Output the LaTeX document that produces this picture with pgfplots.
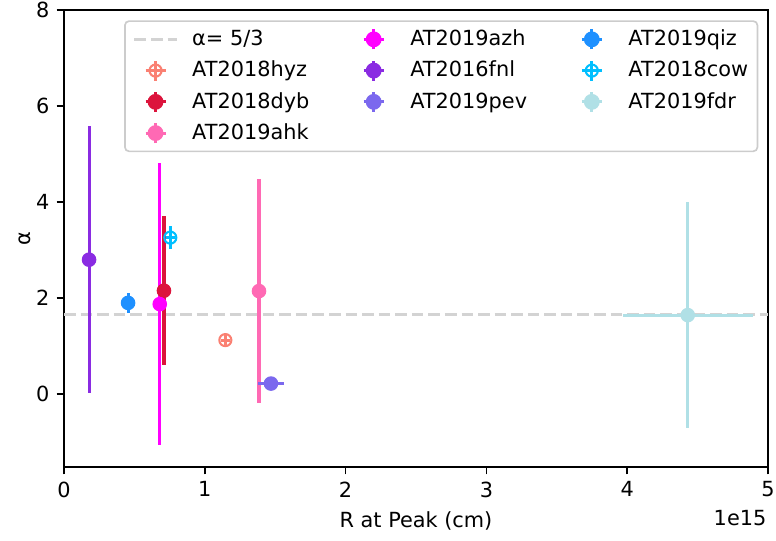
\documentclass[border=0pt]{standalone}
\usepackage{pgfplots}
\pgfplotsset{compat=1.18}
\usepackage{fontspec}
\setmainfont{DejaVu Sans}
\definecolor{salmonc}{RGB}{250,128,114}
\definecolor{crimsonc}{RGB}{220,20,60}
\definecolor{hotpinkc}{RGB}{255,105,180}
\definecolor{magentac}{RGB}{255,0,255}
\definecolor{blueviolet}{RGB}{138,43,226}
\definecolor{mslateblue}{RGB}{123,104,238}
\definecolor{dodgerblue}{RGB}{30,144,255}
\definecolor{deepskyblue}{RGB}{0,191,255}
\definecolor{powderblue}{RGB}{176,224,230}
\definecolor{lgray}{RGB}{211,211,211}
\definecolor{fgray}{RGB}{204,204,204}
\pgfplotsset{
  errleg/.style={legend image code/.code={
    \path (0pt,0pt) (31.5pt,0pt);
    \draw[#1,line width=1.5pt] (14.3pt,-4.8pt)--(14.3pt,4.8pt);
    \draw[#1,line width=1.5pt] (14.3pt-4.8pt,0pt)--(14.3pt+4.8pt,0pt);
    \fill[#1] (14.3pt,0pt) circle (3.4pt);}},
  errlegopen/.style={legend image code/.code={
    \path (0pt,0pt) (31.5pt,0pt);
    \draw[#1,line width=1.5pt] (14.3pt,-4.8pt)--(14.3pt,4.8pt);
    \draw[#1,line width=1.5pt] (14.3pt-4.8pt,0pt)--(14.3pt+4.8pt,0pt);
    \draw[#1,line width=1pt] (14.3pt,0pt) circle (2.9pt);}},
  ebbase/.style={
    /pgfplots/error bars/y dir=both, /pgfplots/error bars/y explicit,
    /pgfplots/error bars/x dir=both, /pgfplots/error bars/x explicit,
    /pgfplots/error bars/error mark=none,
    /pgfplots/error bars/error bar style={line width=1.5pt, color=#1}},
  eb/.style={only marks, mark=*, mark size=3.2pt, color=#1, mark options={fill=#1, draw=#1, line width=0.6pt}, ebbase=#1},
  ebopen/.style={only marks, mark=o, mark size=2.9pt, color=#1, mark options={draw=#1, line width=1pt}, ebbase=#1},
}
\newcommand{\lt}[1]{\makebox[72.4pt][l]{#1}}
\newcommand{\lr}[1]{\makebox[61.9pt][l]{#1}}
\begin{document}
\begin{tikzpicture}
\begin{axis}[
  scale only axis, width=337.9pt, height=219.4pt,
  xmin=0, xmax=5, ymin=-1.52, ymax=8,
  xtick={0,1,2,3,4,5}, ytick={0,2,4,6,8},
  tick pos=left, tick align=outside, major tick length=3.5pt,
  tick style={black, line width=0.8pt},
  axis line style={line width=0.8pt},
  /pgf/number format/assume math mode=true,
  ticklabel style={font=\fontsize{10}{12}\selectfont},
  xlabel={R at Peak (cm)}, ylabel={α},
  label style={font=\fontsize{10}{12}\selectfont},
  ylabel style={yshift=-4.5pt},
  legend columns=3,
  legend cell align=left,
  legend style={at={(rel axis cs:0.9862,0.9775)}, anchor=north east,
    draw=fgray, line width=0.8pt, rounded corners=2pt, fill=white,
    font=\fontsize{10}{12}\selectfont,
    nodes={inner sep=0pt}, column sep=0pt, row sep=3.9pt,
    inner xsep=0pt, inner ysep=3.2pt},
]
\addplot[forget plot, color=lgray, line width=1.5pt, dash pattern=on 5.55pt off 2.4pt] coordinates {(0,1.6667) (5,1.6667)};

\addplot[forget plot, ebopen=salmonc] coordinates {(1.146,1.125) +- (0.03,0.1)};
\addplot[forget plot, eb=crimsonc] coordinates {(0.71,2.155) +- (0,1.55)};
\addplot[forget plot, eb=hotpinkc] coordinates {(1.385,2.146) +- (0,2.33)};
\addplot[forget plot, eb=magentac] coordinates {(0.68,1.875) +- (0,2.94)};
\addplot[forget plot, eb=blueviolet] coordinates {(0.178,2.8) +- (0,2.78)};
\addplot[forget plot, eb=mslateblue] coordinates {(1.47,0.22) +- (0.09,0)};
\addplot[forget plot, eb=dodgerblue] coordinates {(0.455,1.9) +- (0,0.2)};
\addplot[forget plot, ebopen=deepskyblue] coordinates {(0.755,3.26) +- (0.03,0.24)};
\addplot[forget plot, eb=powderblue] coordinates {(4.43,1.646) +- (0.46,2.355)};

\addlegendimage{legend image code/.code={\path (0pt,0pt) (31.5pt,0pt); \draw[lgray, line width=1.5pt, dash pattern=on 5.55pt off 2.4pt] (4.2pt,0pt)--(24.4pt,0pt);}}
\addlegendentry{\lt{α= 5/3}}
\addlegendimage{errleg=magentac}\addlegendentry{\lt{AT2019azh}}
\addlegendimage{errleg=dodgerblue}\addlegendentry{\lr{AT2019qiz}}
\addlegendimage{errlegopen=salmonc}\addlegendentry{\lt{AT2018hyz}}
\addlegendimage{errleg=blueviolet}\addlegendentry{\lt{AT2016fnl}}
\addlegendimage{errlegopen=deepskyblue}\addlegendentry{\lr{AT2018cow}}
\addlegendimage{errleg=crimsonc}\addlegendentry{\lt{AT2018dyb}}
\addlegendimage{errleg=mslateblue}\addlegendentry{\lt{AT2019pev}}
\addlegendimage{errleg=powderblue}\addlegendentry{\lr{AT2019fdr}}
\addlegendimage{errleg=hotpinkc}\addlegendentry{\lt{AT2019ahk}}

\coordinate (bl) at (rel axis cs:0,0);
\coordinate (br) at (rel axis cs:1,0);
\coordinate (tr) at (rel axis cs:1,1);
\end{axis}
\node[anchor=north east, font=\fontsize{10}{12}\selectfont, inner sep=0pt] at ([xshift=-0.6pt,yshift=-20.6pt]br) {1e15};
\path (bl) ++(-30.72pt,-35.04pt) coordinate (A);
\path (tr) ++(3.84pt,4.8pt) coordinate (B);
\pgfresetboundingbox
\useasboundingbox (A) rectangle (B);
\end{tikzpicture}
\end{document}
